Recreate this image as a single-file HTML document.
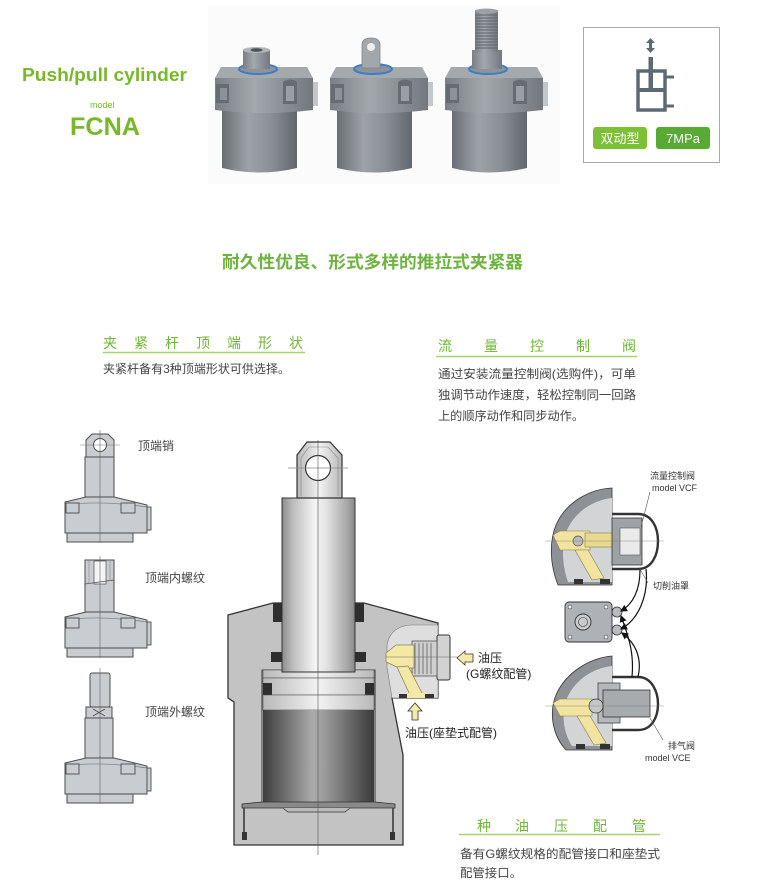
<!DOCTYPE html>
<html><head><meta charset="utf-8"><style>
html,body{margin:0;padding:0;background:#fff;}
svg{display:block;}
text{font-family:"Liberation Sans","Noto Sans CJK SC",sans-serif;}
</style></head><body>
<svg width="758" height="890" viewBox="0 0 758 890" xmlns="http://www.w3.org/2000/svg">
<defs>
<linearGradient id="pb" x1="0" x2="1" y1="0" y2="0"><stop offset="0" stop-color="#696e74"/><stop offset=".35" stop-color="#9da2a7"/><stop offset=".65" stop-color="#8b9096"/><stop offset="1" stop-color="#62676d"/></linearGradient>
<linearGradient id="pf" x1="0" x2="1" y1="0" y2="0"><stop offset="0" stop-color="#7a7f85"/><stop offset=".4" stop-color="#a3a8ad"/><stop offset="1" stop-color="#73787e"/></linearGradient>
<linearGradient id="rod" x1="0" x2="1" y1="0" y2="0"><stop offset="0" stop-color="#8c8c8c"/><stop offset=".15" stop-color="#bdbdbd"/><stop offset=".45" stop-color="#f4f4f4"/><stop offset=".6" stop-color="#e4e4e4"/><stop offset=".9" stop-color="#a6a6a6"/><stop offset="1" stop-color="#888"/></linearGradient>
<linearGradient id="pis" x1="0" x2="1" y1="0" y2="0"><stop offset="0" stop-color="#3e3e3e"/><stop offset=".45" stop-color="#ababab"/><stop offset=".55" stop-color="#9c9c9c"/><stop offset="1" stop-color="#3a3a3a"/></linearGradient>
<linearGradient id="ring" x1="0" x2="1" y1="0" y2="0"><stop offset="0" stop-color="#b8b8b8"/><stop offset=".5" stop-color="#f2f2f2"/><stop offset="1" stop-color="#b8b8b8"/></linearGradient>
<marker id="ah" markerWidth="6" markerHeight="6" refX="5" refY="3" orient="auto"><path d="M0,0 L6,3 L0,6 Z" fill="#111"/></marker>
<g id="cyl">
<path d="M222,108 L297,108 L297,168 Q259.5,177 222,168 Z" fill="url(#pb)"/>
<path d="M215,78 L313,78 L313,110 Q264,116 215,110 Z" fill="url(#pf)"/>
<path d="M221,67 L307,67 L313,78 L215,78 Z" fill="#a4a9ae"/>
<path d="M216,84 L229,84 L229,103 L216,103 Z" fill="#676c72"/>
<path d="M220,88 L227,88 L227,100 L220,100 Z" fill="#8d9298"/>
<path d="M283,82 Q290,77 297,82 L297,104 L283,104 Z" fill="#676c72"/>
<path d="M286,86 L294,86 L294,101 L286,101 Z" fill="#9a9fa4"/>
<rect x="313" y="82" width="5" height="24" fill="#c3c7cb"/>
<ellipse cx="258" cy="69" rx="19" ry="5" fill="#8e9399" stroke="#3a7cc8" stroke-width="2"/>
</g>
<g id="fl">
<polygon points="65,5 86,0 114,0 147,8 147,36 65,36" fill="#c9ccd1" stroke="#4d4d4d" stroke-width="1"/>
<path d="M65,8 Q100,3 147,10" stroke="#777" fill="none" stroke-width=".7"/>
<rect x="66" y="6" width="13" height="10" fill="#c9ccd1" stroke="#4d4d4d" stroke-width=".9"/>
<rect x="121" y="6" width="14" height="10" fill="#c9ccd1" stroke="#4d4d4d" stroke-width=".9"/>
<rect x="147" y="10" width="4" height="23" fill="#c9ccd1" stroke="#4d4d4d" stroke-width=".9"/>
<rect x="67" y="36" width="66" height="9" fill="#c9ccd1" stroke="#4d4d4d" stroke-width="1"/>
<line x1="100" y1="-2" x2="100" y2="46" stroke="#666" stroke-width=".6"/>
</g>
</defs>

<!-- title -->
<text x="22" y="81" font-size="18" font-weight="bold" fill="#78b82a" textLength="165" lengthAdjust="spacingAndGlyphs">Push/pull cylinder</text>
<text x="90" y="108" font-size="9" fill="#78b82a">model</text>
<text x="70" y="135" font-size="25" font-weight="bold" fill="#78b82a" textLength="70" lengthAdjust="spacingAndGlyphs">FCNA</text>

<!-- photos -->
<rect x="208" y="6" width="352" height="178" fill="#fbfbfb"/>
<use href="#cyl"/>
<rect x="243" y="50" width="27" height="19" fill="url(#pf)"/>
<ellipse cx="256.5" cy="50" rx="13.5" ry="3" fill="#b0b5ba"/>
<ellipse cx="256.5" cy="50" rx="6" ry="1.8" fill="#4e5358"/>
<use href="#cyl" transform="translate(115,0)"/>
<path d="M362,68 L362,45 Q362,38 371,38 Q380,38 380,45 L380,68 Z" fill="#a2a7ac" stroke="#80858b" stroke-width=".8"/>
<circle cx="371" cy="47" r="4" fill="#eeeeee"/>
<use href="#cyl" transform="translate(230,0)"/>
<rect x="472" y="50" width="30" height="19" fill="url(#pf)"/>
<rect x="475" y="10" width="23" height="42" fill="url(#pf)"/>
<g stroke="#5f6469" stroke-width="1">
<line x1="475" y1="15" x2="498" y2="15"/><line x1="475" y1="18" x2="498" y2="18"/><line x1="475" y1="21" x2="498" y2="21"/><line x1="475" y1="24" x2="498" y2="24"/><line x1="475" y1="27" x2="498" y2="27"/><line x1="475" y1="30" x2="498" y2="30"/><line x1="475" y1="33" x2="498" y2="33"/><line x1="475" y1="36" x2="498" y2="36"/><line x1="475" y1="39" x2="498" y2="39"/><line x1="475" y1="42" x2="498" y2="42"/><line x1="475" y1="45" x2="498" y2="45"/><line x1="475" y1="48" x2="498" y2="48"/>
</g>
<ellipse cx="486.5" cy="11" rx="11.5" ry="2.5" fill="#9ca1a6"/>

<!-- symbol box -->
<rect x="583.5" y="27.5" width="136" height="135" fill="#fff" stroke="#aaa" stroke-width="1"/>
<path d="M650.5,38 L646,43 L649,43 L649,48 L646,48 L650.5,53 L655,48 L652,48 L652,43 L655,43 Z" fill="#5e6a72"/>
<rect x="648.5" y="57" width="4.5" height="33" fill="#5e6a72"/>
<rect x="638" y="71" width="27" height="39" fill="none" stroke="#5e6a72" stroke-width="3.5"/>
<line x1="638" y1="90" x2="665" y2="90" stroke="#5e6a72" stroke-width="4"/>
<line x1="665" y1="77" x2="674" y2="77" stroke="#5e6a72" stroke-width="3"/>
<line x1="665" y1="106" x2="674" y2="106" stroke="#5e6a72" stroke-width="3"/>
<rect x="593" y="127" width="54" height="22" rx="3" fill="#7cc035"/>
<text x="620" y="143" font-size="13" fill="#fff" text-anchor="middle">双动型</text>
<rect x="656" y="127" width="54" height="22" rx="3" fill="#58aa32"/>
<text x="683" y="143" font-size="13" fill="#fff" text-anchor="middle">7MPa</text>

<!-- main heading -->
<text x="222" y="268" font-size="17" font-weight="bold" fill="#6db33f" textLength="301" lengthAdjust="spacingAndGlyphs">耐久性优良、形式多样的推拉式夹紧器</text>

<!-- section 1 -->
<text y="348" font-size="14" fill="#6fb536" x="103 134 165 196 227 258 289">夹紧杆顶端形状</text>
<line x1="103" y1="352.5" x2="305" y2="352.5" stroke="#a6d36a" stroke-width="1.5"/>
<text x="103" y="373" font-size="12" fill="#444" textLength="187" lengthAdjust="spacingAndGlyphs">夹紧杆备有3种顶端形状可供选择。</text>

<!-- section 2 -->
<text y="351" font-size="14" fill="#6fb536" x="438 484 530 576 622">流量控制阀</text>
<line x1="436" y1="356.5" x2="637" y2="356.5" stroke="#a6d36a" stroke-width="1.5"/>
<text x="438" y="378" font-size="12" fill="#444" textLength="198" lengthAdjust="spacingAndGlyphs">通过安装流量控制阀(选购件)，可单</text>
<text x="438" y="399" font-size="12" fill="#444" textLength="198" lengthAdjust="spacingAndGlyphs">独调节动作速度，轻松控制同一回路</text>
<text x="438" y="420" font-size="12" fill="#444" textLength="146" lengthAdjust="spacingAndGlyphs">上的顺序动作和同步动作。</text>

<!-- section 3 -->
<text y="831" font-size="14" fill="#6fb536" x="477 515 554 593 632">种油压配管</text>
<line x1="459" y1="834.5" x2="660" y2="834.5" stroke="#a6d36a" stroke-width="1.5"/>
<text x="460" y="858" font-size="12" fill="#444" textLength="200" lengthAdjust="spacingAndGlyphs">备有G螺纹规格的配管接口和座垫式</text>
<text x="460" y="877" font-size="12" fill="#444" textLength="62" lengthAdjust="spacingAndGlyphs">配管接口。</text>

<!-- left small diagrams -->
<g stroke="#4d4d4d" stroke-width="1" fill="#c9ccd1">
<path d="M86,457 L86,440 L92,434 L108,434 L114,440 L114,457 Z"/>
<circle cx="100" cy="445" r="6.5" fill="#fff"/>
<rect x="85" y="457" width="29" height="40"/>
</g>
<line x1="80" y1="445" x2="120" y2="445" stroke="#777" stroke-width=".6"/>
<line x1="100" y1="430" x2="100" y2="497" stroke="#666" stroke-width=".6"/>
<use href="#fl" y="497"/>
<text x="138" y="450" font-size="12" fill="#444">顶端销</text>

<g stroke="#4d4d4d" stroke-width="1" fill="#c9ccd1">
<rect x="85" y="560" width="29" height="52"/>
<rect x="94" y="561" width="12" height="23" fill="#f4f4f4" stroke-width=".7"/>
</g>
<path d="M85,584 L114,580" stroke="#4d4d4d" stroke-width=".8"/>
<line x1="89" y1="561" x2="89" y2="584" stroke="#888" stroke-width=".6"/>
<line x1="110" y1="561" x2="110" y2="581" stroke="#888" stroke-width=".6"/>
<line x1="100" y1="556" x2="100" y2="612" stroke="#666" stroke-width=".6"/>
<use href="#fl" y="612"/>
<text x="145" y="582" font-size="12" fill="#444">顶端内螺纹</text>

<g stroke="#4d4d4d" stroke-width="1" fill="#c9ccd1">
<rect x="90" y="673" width="20" height="34" rx="2"/>
<rect x="86" y="707" width="26" height="11"/>
<rect x="85" y="718" width="28" height="40"/>
</g>
<path d="M93,709 L105,716 M105,709 L93,716" stroke="#4d4d4d" stroke-width=".8"/>
<line x1="100" y1="668" x2="100" y2="758" stroke="#666" stroke-width=".6"/>
<use href="#fl" y="758"/>
<text x="145" y="716" font-size="12" fill="#444">顶端外螺纹</text>

<!-- main cross section -->
<polygon points="228,615 273,603 364,603 438,623 438,698 392,698 403,755 403,845 234,845 234,702 228,698" fill="#c3c3c3" stroke="#333" stroke-width="1.3"/>
<!-- port pocket -->
<path d="M438,625 L438,698 L392,698 L387,667 L387,645 Q390,627 410,625 Z" fill="#dedede" stroke="#777" stroke-width=".6"/>
<rect x="437" y="635" width="13" height="45" rx="2" fill="#d2d2d2" stroke="#333" stroke-width="1"/>
<rect x="412" y="641" width="25" height="35" fill="#cfcfcf" stroke="#555" stroke-width=".8"/>
<g stroke="#777" stroke-width="1">
<line x1="415" y1="643" x2="415" y2="674"/><line x1="419" y1="643" x2="419" y2="674"/><line x1="423" y1="643" x2="423" y2="674"/><line x1="427" y1="643" x2="427" y2="674"/><line x1="431" y1="643" x2="431" y2="674"/>
</g>
<polygon points="386,653 396,645 414,645 414,668 399,668 386,662" fill="#f4e8a6" stroke="#8a7f50" stroke-width=".7"/>
<polygon points="397,667 408,666 422,693 411,697" fill="#f4e8a6" stroke="#8a7f50" stroke-width=".7"/>
<rect x="405" y="693" width="22" height="5" fill="#f4e8a6"/>
<rect x="399" y="694" width="8" height="4" fill="#333"/>
<rect x="425" y="694" width="9" height="4" fill="#333"/>
<line x1="386" y1="657" x2="462" y2="657" stroke="#666" stroke-width=".5"/>
<!-- bore & piston -->
<rect x="262" y="670" width="113" height="133" fill="#ddd" stroke="#333" stroke-width="1"/>
<rect x="263" y="670" width="111" height="8" fill="url(#ring)" stroke="#555" stroke-width=".6"/>
<rect x="263" y="678" width="111" height="17" fill="url(#ring)" stroke="#555" stroke-width=".6"/>
<rect x="263" y="683" width="9" height="12" fill="#2e2e2e"/>
<rect x="365" y="683" width="9" height="12" fill="#2e2e2e"/>
<rect x="263" y="695" width="111" height="15" fill="url(#ring)" stroke="#555" stroke-width=".6"/>
<rect x="263" y="710" width="111" height="92" fill="url(#pis)"/>
<path d="M242,804 L262,802 L375,802 L395,804 L395,808 L242,808 Z" fill="#8a8a8a" stroke="#333" stroke-width=".8"/>
<path d="M283,808 L288,812 L345,812 L350,808" fill="#bbb" stroke="#333" stroke-width=".7"/>
<path d="M244,808 L244,840 M393,808 L393,840" stroke="#333" stroke-width="1.5"/>
<rect x="242" y="832" width="5" height="8" fill="#333"/>
<rect x="390" y="832" width="5" height="8" fill="#333"/>
<!-- rod -->
<rect x="282" y="498" width="73" height="174" fill="url(#rod)" stroke="#333" stroke-width="1"/>
<rect x="273" y="603" width="9" height="19" fill="#2e2e2e"/>
<rect x="355" y="603" width="9" height="19" fill="#2e2e2e"/>
<rect x="271" y="652" width="11" height="10" fill="#2e2e2e"/>
<rect x="355" y="652" width="11" height="10" fill="#2e2e2e"/>
<!-- clevis -->
<path d="M297,498 L297,455 L307,442 L330,442 L342,455 L342,498 Z" fill="url(#ring)" stroke="#333" stroke-width="1.2"/>
<path d="M301,496 L301,458 L309,447 L328,447 L338,458 L338,496" fill="none" stroke="#888" stroke-width=".6"/>
<circle cx="318" cy="468" r="12.5" fill="#fff" stroke="#333" stroke-width="1.2"/>
<line x1="288" y1="468" x2="348" y2="468" stroke="#888" stroke-width=".7"/>
<line x1="318" y1="440" x2="318" y2="855" stroke="#555" stroke-width=".6"/>
<!-- arrows -->
<polygon points="457,658 465,651 465,654 473,654 473,662 465,662 465,665" fill="#f6eaa8" stroke="#333" stroke-width=".8"/>
<text x="478" y="662" font-size="12" fill="#222">油压</text>
<text x="466" y="678" font-size="12" fill="#222">(G螺纹配管)</text>
<polygon points="415,703 408,711 412,711 412,720 418,720 418,711 422,711" fill="#f6eaa8" stroke="#333" stroke-width=".8"/>
<text x="405" y="737" font-size="12" fill="#222">油压(座垫式配管)</text>

<!-- right detail: top unit -->
<path d="M612,488 C590,489 566,502 556,525 C549,542 550,565 558,585 L612,585 Z" fill="#8e9297" stroke="#333" stroke-width=".8"/>
<path d="M612,498 C593,500 575,512 567,530 C561,545 562,565 568,582 L612,582 Z" fill="#d3d4d5"/>
<polygon points="553,535 560,531 590,531 590,550 560,550" fill="#f1e3a0" stroke="#8a7f50" stroke-width=".6"/>
<rect x="585" y="533" width="30" height="14" fill="#e9d98f" stroke="#8a7f50" stroke-width=".6"/>
<circle cx="578" cy="541" r="5" fill="#bbb" stroke="#555" stroke-width=".7"/>
<polygon points="575,550 588,550 604,578 592,580" fill="#f1e3a0" stroke="#8a7f50" stroke-width=".6"/>
<rect x="574" y="579" width="9" height="5" fill="#333"/>
<rect x="600" y="579" width="10" height="5" fill="#333"/>
<rect x="612" y="518" width="30" height="47" fill="#9fa2a5" stroke="#333" stroke-width=".8"/>
<rect x="620" y="528" width="20" height="27" fill="#eaeaea" stroke="#555" stroke-width=".6"/>
<path d="M612,514 L638,514 C652,514 658,528 658,541 C658,555 652,569 638,569 L612,569" fill="none" stroke="#333" stroke-width="2.4"/>
<line x1="545" y1="541" x2="664" y2="541" stroke="#777" stroke-width=".4"/>
<!-- plate -->
<rect x="565" y="602" width="47" height="40" rx="4" fill="#aeb1b5" stroke="#333" stroke-width=".9"/>
<circle cx="583" cy="622" r="8" fill="#c8cacc" stroke="#333" stroke-width=".9"/>
<circle cx="583" cy="622" r="4.5" fill="none" stroke="#333" stroke-width=".6"/>
<circle cx="570" cy="607" r="2" fill="#eee" stroke="#333" stroke-width=".5"/>
<circle cx="606" cy="607" r="2" fill="#eee" stroke="#333" stroke-width=".5"/>
<circle cx="570" cy="637" r="2" fill="#eee" stroke="#333" stroke-width=".5"/>
<circle cx="606" cy="637" r="2" fill="#eee" stroke="#333" stroke-width=".5"/>
<circle cx="617" cy="612" r="5" fill="#b9bcbf" stroke="#333" stroke-width=".8"/>
<circle cx="617" cy="630" r="5" fill="#b9bcbf" stroke="#333" stroke-width=".8"/>
<!-- bottom unit -->
<path d="M612,656 C590,658 566,672 556,695 C549,712 552,735 566,750 L612,750 Z" fill="#8e9297" stroke="#333" stroke-width=".8"/>
<path d="M612,666 C593,668 575,680 567,698 C561,713 563,732 572,746 L612,746 Z" fill="#d3d4d5"/>
<polygon points="553,703 560,699 592,699 592,716 560,716" fill="#f1e3a0" stroke="#8a7f50" stroke-width=".6"/>
<polygon points="577,716 590,716 606,743 594,745" fill="#f1e3a0" stroke="#8a7f50" stroke-width=".6"/>
<rect x="576" y="744" width="9" height="5" fill="#333"/>
<rect x="600" y="744" width="10" height="5" fill="#333"/>
<rect x="598" y="683" width="22" height="40" fill="#b5b8bb" stroke="#333" stroke-width=".7"/>
<rect x="603" y="690" width="47" height="27" fill="#a8abae" stroke="#333" stroke-width=".8"/>
<circle cx="596" cy="706" r="7" fill="#c4c6c8" stroke="#333" stroke-width=".7"/>
<path d="M612,677 L638,677 C652,677 658,692 658,704 C658,717 652,730 638,730 L612,730" fill="none" stroke="#333" stroke-width="2.4"/>
<line x1="545" y1="706" x2="664" y2="706" stroke="#777" stroke-width=".4"/>
<!-- curved arrows -->
<g fill="none" stroke="#111" stroke-width="1.2" marker-end="url(#ah)">
<path d="M640,570 C640,590 633,604 621,611"/>
<path d="M646,569 C649,596 638,620 621,629"/>
<path d="M632,677 C634,655 630,640 621,616"/>
<path d="M638,677 C642,660 637,644 622,633"/>
</g>
<g stroke="#555" stroke-width=".6">
<line x1="650" y1="492" x2="641" y2="527"/>
<line x1="648" y1="583" x2="640" y2="569"/>
<line x1="663" y1="740" x2="650" y2="718"/>
</g>
<text x="650" y="479" font-size="9" fill="#333">流量控制阀</text>
<text x="652" y="491" font-size="9" fill="#333">model VCF</text>
<text x="653" y="589" font-size="9" fill="#333">切削油罩</text>
<text x="668" y="749" font-size="9" fill="#333">排气阀</text>
<text x="645" y="761" font-size="9" fill="#333">model VCE</text>
</svg>
</body></html>
